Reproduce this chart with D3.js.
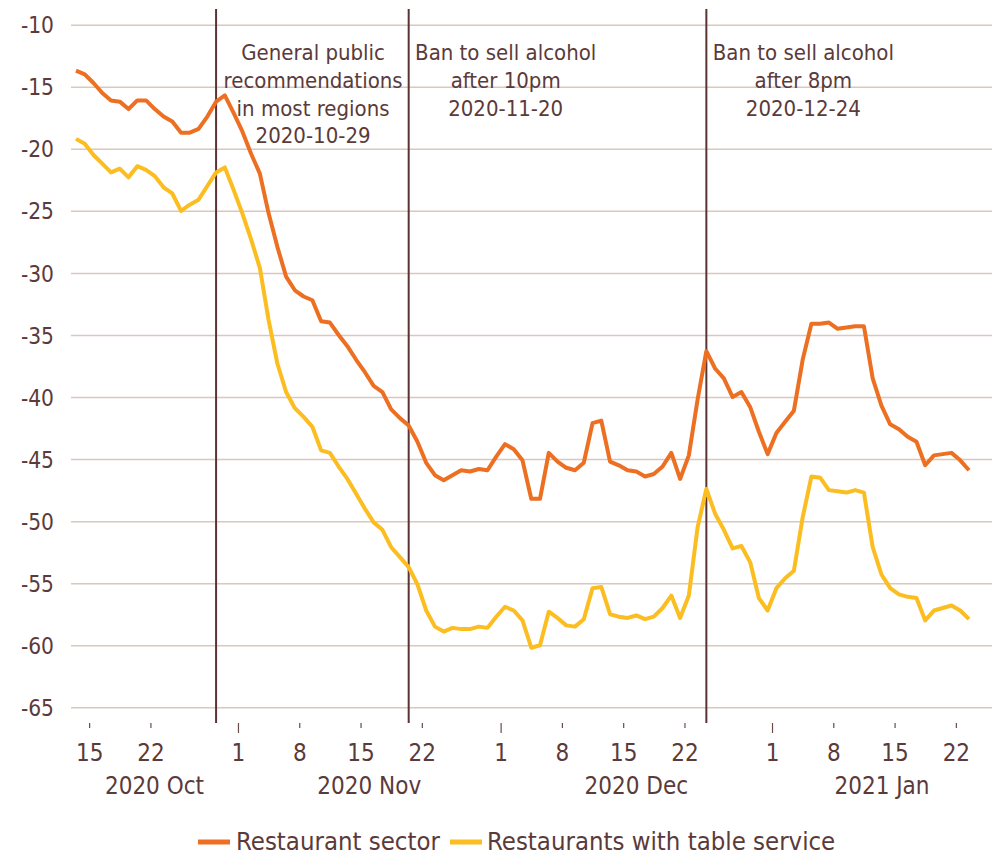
<!DOCTYPE html>
<html>
<head>
<meta charset="utf-8">
<script src="https://cdn.jsdelivr.net/npm/d3@7"></script>
<style>
  body { margin: 0; background: #fff; }
  svg text { font-family: "DejaVu Sans Condensed", "DejaVu Sans", sans-serif; font-stretch: condensed; fill: #5b3a3a; }
</style>
</head>
<body>
<div id="chart"></div>
<script>
// data: daily values, 2020-10-13 .. 2021-01-23
const firstDay = new Date(2020, 9, 13, 12);
const lastDay = new Date(2021, 0, 23, 12);

const restaurantSector = [
  -13.7, -14.0, -14.7, -15.5, -16.1, -16.2, -16.8, -16.1, -16.1, -16.8,
  -17.4, -17.8, -18.7, -18.7, -18.4, -17.4, -16.2, -15.7, -17.1, -18.6,
  -20.4, -22.0, -25.2, -27.9, -30.3, -31.4, -31.9, -32.2, -33.9, -34.0,
  -35.0, -35.9, -37.0, -38.0, -39.1, -39.6, -41.0, -41.7, -42.3, -43.6,
  -45.3, -46.3, -46.7, -46.3, -45.9, -46.0, -45.8, -45.9, -44.8, -43.8,
  -44.2, -45.1, -48.2, -48.2, -44.5, -45.2, -45.7, -45.9, -45.3, -42.1,
  -41.9, -45.2, -45.5, -45.9, -46.0, -46.4, -46.2, -45.6, -44.5, -46.6,
  -44.7, -40.2, -36.3, -37.7, -38.5, -40.0, -39.6, -40.8, -42.8, -44.6,
  -42.9, -42.0, -41.1, -37.0, -34.1, -34.1, -34.0, -34.5, -34.4, -34.3,
  -34.3, -38.5, -40.7, -42.2, -42.6, -43.2, -43.6, -45.5, -44.7, -44.6,
  -44.5, -45.1, -45.9
];

const tableService = [
  -19.2, -19.6, -20.5, -21.2, -21.9, -21.6, -22.3, -21.4, -21.7, -22.2,
  -23.1, -23.6, -25.0, -24.5, -24.1, -23.0, -21.9, -21.5, -23.3, -25.2,
  -27.3, -29.6, -33.8, -37.3, -39.6, -40.9, -41.6, -42.4, -44.3, -44.5,
  -45.6, -46.6, -47.8, -49.0, -50.1, -50.7, -52.1, -52.9, -53.7, -55.1,
  -57.2, -58.5, -58.9, -58.6, -58.7, -58.7, -58.5, -58.6, -57.7, -56.9,
  -57.2, -58.0, -60.2, -60.0, -57.3, -57.8, -58.4, -58.5, -57.9, -55.4,
  -55.3, -57.5, -57.7, -57.8, -57.6, -57.9, -57.7, -57.0, -56.0, -57.8,
  -56.0, -50.5, -47.4, -49.4, -50.7, -52.2, -52.0, -53.3, -56.2, -57.2,
  -55.4, -54.6, -54.0, -49.7, -46.4, -46.5, -47.5, -47.6, -47.7, -47.5,
  -47.7, -52.1, -54.3, -55.4, -55.9, -56.1, -56.2, -58.0, -57.2, -57.0,
  -56.8, -57.2, -57.9
];

const seriesNames = ["Restaurant sector", "Restaurants with table service"];
const seriesColors = ["#ec6f22", "#fbbd20"];

const yTicks = [-65, -60, -55, -50, -45, -40, -35, -30, -25, -20, -15, -10];
const xTickDates = ["2020-10-15", "2020-10-22", "2020-11-01", "2020-11-08", "2020-11-15", "2020-11-22",
  "2020-12-01", "2020-12-08", "2020-12-15", "2020-12-22", "2021-01-01", "2021-01-08", "2021-01-15", "2021-01-22"];
const monthLabels = ["2020 Oct", "2020 Nov", "2020 Dec", "2021 Jan"];

const events = [
  { date: new Date(2020, 9, 29, 12), lines: ["General public", "recommendations", "in most regions", "2020-10-29"] },
  { date: new Date(2020, 10, 20, 12), lines: ["Ban to sell alcohol", "after 10pm", "2020-11-20"] },
  { date: new Date(2020, 11, 24, 12), lines: ["Ban to sell alcohol", "after 8pm", "2020-12-24"] }
];

// layout
const width = 998, height = 856;
const plotLeft = 71, plotRight = 992;
const axisY = 723;

const days = d3.timeDay.range(new Date(2020, 9, 13), new Date(2021, 0, 24)).map(d => d3.timeHour.offset(d, 12));

const svg = d3.select("#chart").append("svg")
  .attr("width", width)
  .attr("height", height);

const x = d3.scaleTime()
  .domain([firstDay, lastDay])
  .range([76, 969]);

const y = d3.scaleLinear()
  .domain([-65, -10])
  .range([707.3, 24.7]);

// y grid + labels
const yAxis = d3.axisLeft(y)
  .tickValues(yTicks)
  .tickSize(-(plotRight - plotLeft))
  .tickPadding(17)
  .tickFormat(d => String(d));

svg.append("g")
  .attr("transform", `translate(${plotLeft},0)`)
  .call(yAxis)
  .call(g => g.select(".domain").remove())
  .call(g => g.selectAll(".tick line").attr("stroke", "#dcc8bb").attr("stroke-width", 1.5))
  .call(g => g.selectAll(".tick text")
    .attr("font-size", 22.5)
    .attr("fill", "#5b3a3a")
    .attr("dy", "0.36em"));

// x axis
const parse = d3.timeParse("%Y-%m-%d");
const xTicks = xTickDates.map(parse);

const xAxis = d3.axisBottom(x)
  .tickValues(xTicks)
  .tickSize(5)
  .tickFormat(d3.timeFormat("%-d"));

svg.append("g")
  .attr("transform", `translate(0,${axisY})`)
  .call(xAxis)
  .call(g => g.select(".domain").remove())
  .call(g => g.selectAll(".tick line")
    .attr("stroke", "#6b4a4a")
    .attr("stroke-width", 1.2)
    .attr("y2", d => d.getDate() === 1 ? 10 : 5))
  .call(g => g.selectAll(".tick text")
    .attr("font-size", 24)
    .attr("fill", "#5b3a3a")
    .attr("y", 38)
    .attr("dy", 0));

// month labels centred on the visible part of each month
const xLeft = x.invert(plotLeft), xRight = x.invert(plotRight);
const months = d3.timeMonth.range(d3.timeMonth.floor(xLeft), xRight);
svg.append("g")
  .selectAll("text")
  .data(months)
  .join("text")
  .attr("x", m => {
    const a = Math.max(x(m), plotLeft);
    const b = Math.min(x(d3.timeMonth.offset(m, 1)), plotRight);
    return (a + b) / 2;
  })
  .attr("y", 794)
  .attr("text-anchor", "middle")
  .attr("font-size", 24)
  .text((m, i) => monthLabels[i]);

// event lines
svg.append("g")
  .selectAll("line")
  .data(events)
  .join("line")
  .attr("x1", d => x(d.date))
  .attr("x2", d => x(d.date))
  .attr("y1", 9)
  .attr("y2", axisY)
  .attr("stroke", "#5a3333")
  .attr("stroke-width", 2);

// series lines
const line = d3.line()
  .x((d, i) => x(days[i]))
  .y(d => y(d));

[restaurantSector, tableService].forEach((vals, k) => {
  svg.append("path")
    .datum(vals)
    .attr("fill", "none")
    .attr("stroke", seriesColors[k])
    .attr("stroke-width", 4)
    .attr("stroke-linejoin", "round")
    .attr("d", line);
});

// event labels
const ev = svg.append("g")
  .selectAll("text")
  .data(events)
  .join("text")
  .attr("text-anchor", "middle")
  .attr("font-size", 22)
  .attr("x", d => x(d.date) + 97)
  .attr("y", 60);

ev.selectAll("tspan")
  .data(d => d.lines.map(l => ({ l, cx: x(d.date) + 97 })))
  .join("tspan")
  .attr("x", t => t.cx)
  .attr("dy", (t, i) => i === 0 ? 0 : 27.8)
  .text(t => t.l);

// legend
const legend = svg.append("g");
const legendItems = [
  { x0: 198, tx: 236 },
  { x0: 450, tx: 487 }
];
legendItems.forEach((it, i) => {
  legend.append("line")
    .attr("x1", it.x0).attr("x2", it.x0 + 32)
    .attr("y1", 842).attr("y2", 842)
    .attr("stroke", seriesColors[i])
    .attr("stroke-width", 5);
  legend.append("text")
    .attr("x", it.tx)
    .attr("y", 850)
    .attr("font-size", 25.5)
    .text(seriesNames[i]);
});
</script>
</body>
</html>
